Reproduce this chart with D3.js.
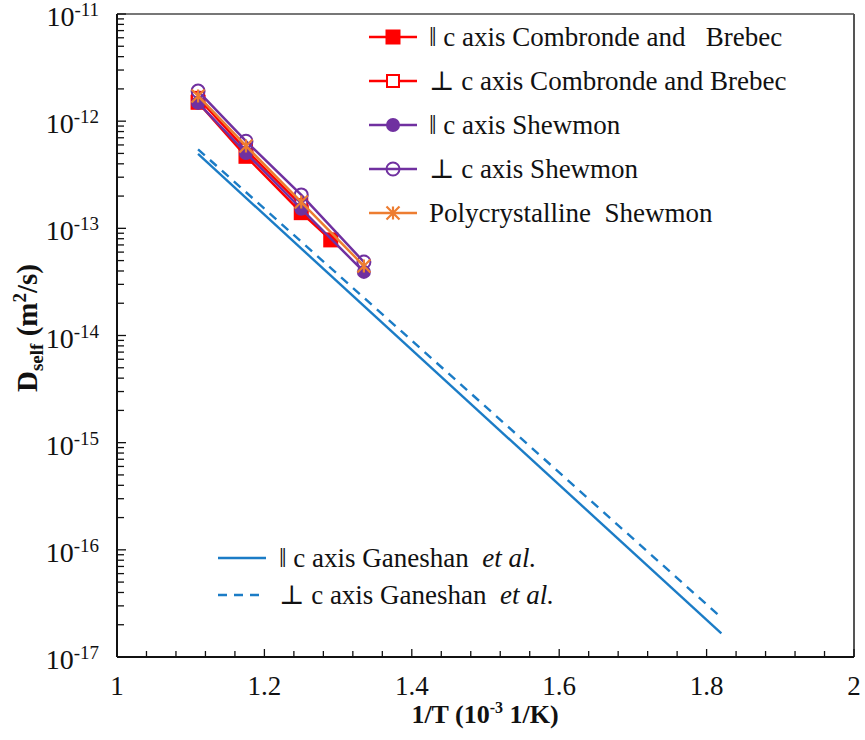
<!DOCTYPE html>
<html>
<head>
<meta charset="utf-8">
<script src="https://cdn.jsdelivr.net/npm/d3@7"></script>
<style>
  body { margin: 0; background: #fff; }
</style>
</head>
<body>
<div id="graph"></div>
<script>
// données
const shewmonX = [1.11, 1.175, 1.25, 1.335];
const shewmonParD = [1.48e-12, 5.05e-13, 1.52e-13, 3.92e-14];
const shewmonPerpD = [1.91e-12, 6.5e-13, 2.05e-13, 4.85e-14];
const shewmonPolyD = [1.72e-12, 5.87e-13, 1.76e-13, 4.45e-14];
const combrondeParX = [1.11, 1.175, 1.25, 1.29];
const combrondeParD = [1.5e-12, 4.7e-13, 1.4e-13, 7.8e-14];
const combrondePerpX = [1.11, 1.175, 1.25];
const combrondePerpD = [1.65e-12, 5.4e-13, 1.65e-13];
const ganeshanX = [1.11, 1.82];
const ganeshanParD = [4.94e-13, 1.66e-17];
const ganeshanPerpD = [5.46e-13, 2.33e-17];

const xTicks = [1, 1.2, 1.4, 1.6, 1.8, 2];
const xTickLabels = ["1", "1.2", "1.4", "1.6", "1.8", "2"];
const yExponents = [-11, -12, -13, -14, -15, -16, -17];

const width = 865, height = 740;
const margin = { top: 14, right: 11, bottom: 83, left: 117 };
const serif = "'Liberation Serif', 'Times New Roman', 'DejaVu Serif', serif";

const svg = d3.select("#graph").append("svg")
    .attr("width", width)
    .attr("height", height)
    .attr("font-family", serif)
    .style("font-family", serif);

const x = d3.scaleLinear().domain([1, 2]).range([margin.left, width - margin.right]);
const y = d3.scaleLog().domain([1e-17, 1e-11]).range([height - margin.bottom, margin.top]);

// cadre
svg.append("line").attr("x1", x(1)).attr("x2", x(2)).attr("y1", y(1e-11)).attr("y2", y(1e-11))
    .attr("stroke", "#777").attr("stroke-width", 2);
svg.append("line").attr("x1", x(2)).attr("x2", x(2)).attr("y1", y(1e-11)).attr("y2", y(1e-17))
    .attr("stroke", "#555").attr("stroke-width", 2);

// axe x : graduations vers l'intérieur
const xMinor = d3.range(1, 2.0001, 0.04);
svg.append("g").selectAll("line").data(xMinor).enter().append("line")
    .attr("x1", d => x(d)).attr("x2", d => x(d))
    .attr("y1", y(1e-17)).attr("y2", d => y(1e-17) - (xTicks.some(t => Math.abs(t - d) < 1e-6) ? 8 : 6))
    .attr("stroke", "#111").attr("stroke-width", 1.3);
svg.append("line").attr("x1", x(1)).attr("x2", x(2)).attr("y1", y(1e-17)).attr("y2", y(1e-17))
    .attr("stroke", "#111").attr("stroke-width", 2);
svg.append("g").selectAll("text").data(xTicks).enter().append("text")
    .attr("x", d => x(d)).attr("y", y(1e-17) + 38)
    .attr("text-anchor", "middle").attr("font-size", 27).attr("fill", "#111")
    .text((d, i) => xTickLabels[i]);

// axe y : log, graduations mineures 2..9
const yMinor = [];
yExponents.forEach(e => {
    yMinor.push({ v: Math.pow(10, e), major: true });
    if (e < -11) for (let k = 2; k <= 9; k++) yMinor.push({ v: k * Math.pow(10, e), major: false });
});
svg.append("g").selectAll("line").data(yMinor).enter().append("line")
    .attr("x1", x(1)).attr("x2", d => x(1) + (d.major ? 9 : 7))
    .attr("y1", d => y(d.v)).attr("y2", d => y(d.v))
    .attr("stroke", "#111").attr("stroke-width", 1.3);
svg.append("line").attr("x1", x(1)).attr("x2", x(1)).attr("y1", y(1e-11)).attr("y2", y(1e-17))
    .attr("stroke", "#111").attr("stroke-width", 2);
const yl = svg.append("g").selectAll("text").data(yExponents).enter().append("text")
    .attr("x", 99).attr("y", d => y(Math.pow(10, d)) + 12)
    .attr("text-anchor", "end").attr("font-size", 28).attr("fill", "#111");
yl.append("tspan").text("10");
yl.append("tspan").attr("font-size", 19).attr("dy", -10).text(d => "-" + Math.abs(d));

// titres des axes
const xt = svg.append("text").attr("x", 485).attr("y", 723).attr("fill", "#111")
    .attr("text-anchor", "middle").attr("font-size", 26).attr("font-weight", "bold");
xt.append("tspan").text("1/T (10");
xt.append("tspan").attr("font-size", 16).attr("dy", -10).text("-3");
xt.append("tspan").attr("dy", 10).text(" 1/K)");

const yt = svg.append("text").attr("transform", "translate(37,328) rotate(-90)").attr("fill", "#111")
    .attr("text-anchor", "middle").attr("font-size", 29).attr("font-weight", "bold");
yt.append("tspan").text("D");
yt.append("tspan").attr("font-size", 19).attr("dy", 6).text("self");
yt.append("tspan").attr("dy", -6).text(" (m");
yt.append("tspan").attr("font-size", 19).attr("dy", -11).text("2");
yt.append("tspan").attr("dy", 11).text("/s)");

// marqueurs
function drawMarker(g, type, color, cx, cy) {
    if (type === "squareFilled") {
        g.append("rect").attr("x", cx - 7.5).attr("y", cy - 7.5).attr("width", 15).attr("height", 15).attr("fill", color);
    } else if (type === "squareOpen") {
        g.append("rect").attr("x", cx - 6).attr("y", cy - 6).attr("width", 12).attr("height", 12)
            .attr("fill", "#fff").attr("stroke", color).attr("stroke-width", 2);
    } else if (type === "circleFilled") {
        g.append("circle").attr("cx", cx).attr("cy", cy).attr("r", 7).attr("fill", color);
    } else if (type === "circleOpen") {
        g.append("circle").attr("cx", cx).attr("cy", cy).attr("r", 6.5)
            .attr("fill", "none").attr("stroke", color).attr("stroke-width", 2);
    } else if (type === "star") {
        const s = 6.5;
        g.append("path")
            .attr("d", `M${cx - s},${cy - s}L${cx + s},${cy + s}M${cx - s},${cy + s}L${cx + s},${cy - s}M${cx},${cy - s}L${cx},${cy + s}`)
            .attr("stroke", color).attr("stroke-width", 2.2).attr("fill", "none");
    }
}

const lineGen = d3.line().x(d => x(d[0])).y(d => y(d[1]));

// Ganeshan et al.
const ganeshan = [
    { D: ganeshanParD, dash: null },
    { D: ganeshanPerpD, dash: "9,7" }
];
ganeshan.forEach(s => {
    svg.append("path")
        .attr("d", lineGen(ganeshanX.map((v, i) => [v, s.D[i]])))
        .attr("fill", "none").attr("stroke", "#1b7cc6").attr("stroke-width", 2.4)
        .attr("stroke-dasharray", s.dash);
});

const series = [
    { label: "\u2016 c axis Combronde and\u00a0\u00a0 Brebec", xs: combrondeParX, D: combrondeParD, color: "#ff0000", marker: "squareFilled" },
    { label: "\u22a5 c axis Combronde and Brebec", xs: combrondePerpX, D: combrondePerpD, color: "#ff0000", marker: "squareOpen" },
    { label: "\u2016 c axis Shewmon", xs: shewmonX, D: shewmonParD, color: "#7030a0", marker: "circleFilled" },
    { label: "\u22a5 c axis Shewmon", xs: shewmonX, D: shewmonPerpD, color: "#7030a0", marker: "circleOpen" },
    { label: "Polycrystalline\u00a0 Shewmon", xs: shewmonX, D: shewmonPolyD, color: "#ed7d31", marker: "star" }
];

series.forEach(s => {
    const g = svg.append("g");
    const pts = s.xs.map((v, i) => [v, s.D[i]]);
    g.append("path").attr("d", lineGen(pts))
        .attr("fill", "none").attr("stroke", s.color).attr("stroke-width", 2.5);
    pts.forEach(p => drawMarker(g, s.marker, s.color, x(p[0]), y(p[1])));
});

// légende haute
const leg = svg.append("g");
series.forEach((s, i) => {
    const ly = 37 + i * 44;
    leg.append("line").attr("x1", 369).attr("x2", 417).attr("y1", ly).attr("y2", ly)
        .attr("stroke", s.color).attr("stroke-width", 2.5);
    drawMarker(leg, s.marker, s.color, 393, ly);
    leg.append("text").attr("x", 429).attr("y", ly + 9).attr("font-size", 27).attr("fill", "#111")
        .text(s.label);
});

// légende Ganeshan
const leg2 = [
    { pre: "\u2016 c axis Ganeshan\u00a0 ", dash: null },
    { pre: "\u22a5 c axis Ganeshan\u00a0 ", dash: "9,7" }
];
leg2.forEach((s, i) => {
    const ly = 558 + i * 37;
    svg.append("line").attr("x1", 218).attr("x2", 266).attr("y1", ly).attr("y2", ly)
        .attr("stroke", "#1b7cc6").attr("stroke-width", 2.4).attr("stroke-dasharray", s.dash);
    const t = svg.append("text").attr("x", 279).attr("y", ly + 9).attr("font-size", 27).attr("fill", "#111");
    t.append("tspan").text(s.pre);
    t.append("tspan").attr("font-style", "italic").text("et al.");
});
</script>
</body>
</html>
